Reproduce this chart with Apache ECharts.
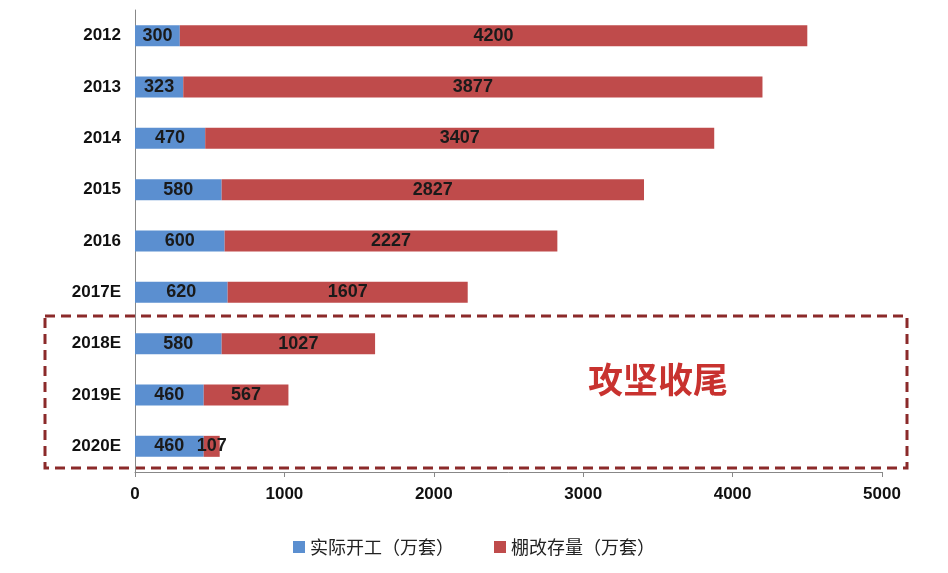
<!DOCTYPE html>
<html><head><meta charset="utf-8">
<script src="https://cdn.jsdelivr.net/npm/echarts@6/dist/echarts.min.js"></script>
<style>html,body{margin:0;padding:0;background:#fff}#c{width:948px;height:573px}</style>
</head><body><div id="c"></div>
<script>
const categories = ['2012','2013','2014','2015','2016','2017E','2018E','2019E','2020E'];
const actualStart = [300,323,470,580,600,620,580,460,460];
const remaining = [4200,3877,3407,2827,2227,1607,1027,567,107];
const xTicks = [0,1000,2000,3000,4000,5000];
const chart = echarts.init(document.getElementById('c'));
const lbl = {show:true, position:'inside', color:'#1a1a1a', fontWeight:'bold', fontSize:18, fontFamily:'Liberation Sans'};
chart.setOption({
  animation:false,
  grid:{left:135,right:66,top:10,bottom:101},
  legend:{bottom:12,left:'center',itemWidth:12,itemHeight:12,itemGap:40,icon:'rect',
    textStyle:{fontSize:18,color:'#222',fontFamily:'Noto Sans CJK SC'},
    data:['实际开工（万套）','棚改存量（万套）']},
  xAxis:{type:'value',min:0,max:5000,interval:1000,splitLine:{show:false},
    axisLine:{show:true,lineStyle:{color:'#888'}},axisTick:{show:true,lineStyle:{color:'#888'}},
    axisLabel:{fontSize:17,fontWeight:'bold',color:'#111',margin:14,fontFamily:'Liberation Sans',
      formatter:v=>xTicks.includes(v)?String(v):''}},
  yAxis:{type:'category',inverse:true,data:categories,
    axisLine:{show:true,lineStyle:{color:'#888'}},axisTick:{show:false},
    axisLabel:{fontSize:17,fontWeight:'bold',color:'#111',margin:14,fontFamily:'Liberation Sans'}},
  series:[
    {name:'实际开工（万套）',type:'bar',stack:'a',barWidth:21,data:actualStart,
     itemStyle:{color:'#5b8fd0'},label:lbl},
    {name:'棚改存量（万套）',type:'bar',stack:'a',barWidth:21,data:remaining,
     itemStyle:{color:'#bf4b4b'},label:lbl}
  ],
  graphic:[
    {type:'rect',shape:{x:45,y:316,width:862,height:152},
     style:{fill:'none',stroke:'#8b2a2a',lineWidth:3,lineDash:[10,6]}},
    {type:'text',left:588,top:362,style:{text:'攻坚收尾',fontSize:35,fontWeight:'bold',
     fill:'#c8322f',fontFamily:'Noto Sans CJK SC'}}
  ]
});
</script></body></html>
